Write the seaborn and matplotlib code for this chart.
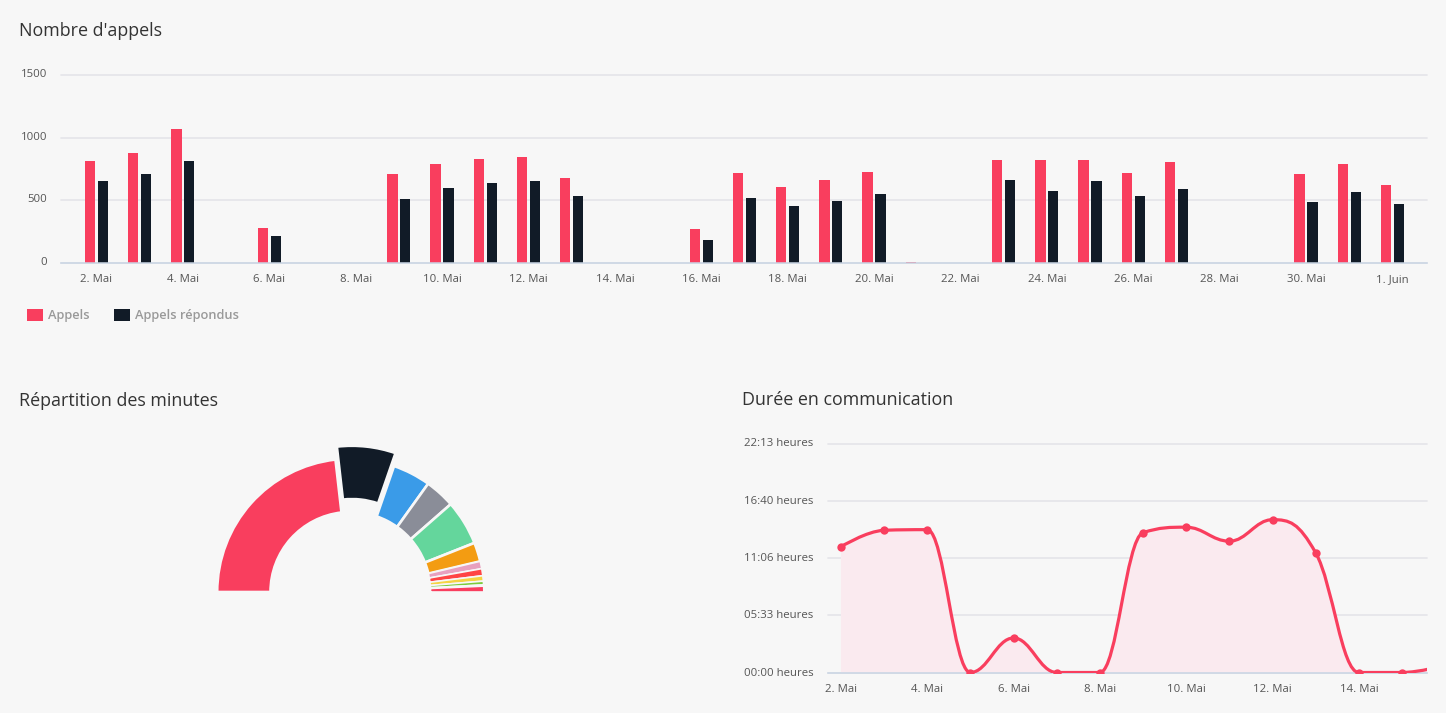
import numpy as np
import pandas as pd
import seaborn as sns
import matplotlib
matplotlib.use("Agg")
import matplotlib.pyplot as plt
from matplotlib.path import Path
from matplotlib.patches import PathPatch
from matplotlib.transforms import ScaledTranslation

days = ["2. Mai","3. Mai","4. Mai","5. Mai","6. Mai","7. Mai","8. Mai","9. Mai","10. Mai","11. Mai",
        "12. Mai","13. Mai","14. Mai","15. Mai","16. Mai","17. Mai","18. Mai","19. Mai","20. Mai","21. Mai",
        "22. Mai","23. Mai","24. Mai","25. Mai","26. Mai","27. Mai","28. Mai","29. Mai","30. Mai","31. Mai","1. Juin"]
appels = [815,880,1070,2,280,0,3,710,790,830,845,680,0,0,270,720,605,660,730,8,3,820,820,820,720,805,0,0,710,790,620]
repondus = [655,710,815,0,215,0,0,510,598,637,655,535,0,0,182,518,455,495,550,0,0,660,575,655,535,590,0,0,485,565,470]

slice_names = ["A","B","C","D","E","F","G","H","I","J","K","L"]
slice_share = [46.4,14.2,9.2,7.3,10.9,4.6,1.8,1.7,1.3,0.9,0.3,1.4]
slice_colors = ["#F93E5E","#111B27","#3A9BE8","#8A8D98","#64D69C","#F39C12","#E8A0BF","#FF4444","#F5D442","#7CCC3C","#C8E8A0","#F93E5E"]

line_days = [0,1,2,3,4,5,6,7,8,9,10,11,12,13,14]
line_hours = [12.2,13.8,13.86,0,3.35,0,0,13.57,14.1,12.74,14.83,11.62,0,0,0.7]
line_ticks = [0,5.55,11.1,16.67,22.22]
line_tick_labels = ["00:00 heures","05:33 heures","11:06 heures","16:40 heures","22:13 heures"]
line_xticks = [0,2,4,6,8,10,12]
line_xlabels = ["2. Mai","4. Mai","6. Mai","8. Mai","10. Mai","12. Mai","14. Mai"]

W, H = 1446, 713
BG = "#F7F7F7"; RED = "#F93E5E"; DARK = "#111B27"; GRID = "#E6E6EA"; AXIS = "#C9D5E4"; TXT = "#555555"
sns.set_theme(style="white")
plt.rcParams["font.family"] = ["Open Sans", "DejaVu Sans"]
plt.rcParams["axes.facecolor"] = BG

def px_axes(fig, left, top, right, bottom):
    return fig.add_axes([left/W, 1-bottom/H, (right-left)/W, (bottom-top)/H])

def style(ax):
    for s in ["top","left","right"]:
        ax.spines[s].set_visible(False)
    ax.spines["bottom"].set_color(AXIS)
    ax.spines["bottom"].set_linewidth(1.1)
    ax.grid(False)
    ax.yaxis.grid(True, color=GRID, linewidth=1.3, clip_on=False)
    ax.set_axisbelow(True)
    ax.set_xlabel(""); ax.set_ylabel("")

def finish_ticks(ax, fig, dy_px, ypad):
    ax.tick_params(axis="x", length=0, pad=13.7, labelsize=8.2, labelcolor=TXT)
    ax.tick_params(axis="y", length=0, pad=ypad, labelsize=8.2, labelcolor=TXT)
    for lab in ax.get_xticklabels():
        lab.set_verticalalignment("baseline")
    off = ScaledTranslation(0, dy_px/fig.dpi, fig.dpi_scale_trans)
    for lab in ax.get_yticklabels():
        lab.set_transform(lab.get_transform() + off)
    for gl in ax.yaxis.get_gridlines():
        gl.set_clip_on(False)

fig = plt.figure(figsize=(W/100, H/100), dpi=100, facecolor=BG)

# --- Bars
ax1 = px_axes(fig, 61, 75, 1427, 263)
df = pd.DataFrame({"jour": days*2,
                   "n": appels+repondus,
                   "serie": ["Appels"]*len(days)+["Appels répondus"]*len(days)})
sns.barplot(data=df, x="jour", y="n", hue="serie", palette=[RED, DARK], width=0.6, gap=0.2,
            saturation=1, ax=ax1, legend=True, linewidth=0)
style(ax1)
ax1.set_xlim(-0.82, 30.8)
ax1.set_ylim(0, 1500)
ax1.set_yticks([0,500,1000,1500])
ax1.set_yticklabels(["0","500","1000","1500"])
ax1.set_xticks(range(0, len(days), 2))
ax1.set_xticklabels(days[::2])
finish_ticks(ax1, fig, 2, 10)
h, l = ax1.get_legend_handles_labels()
ax1.legend(h, l, loc="upper left", bbox_to_anchor=(27/W, 1-309/H), bbox_transform=fig.transFigure,
           ncol=2, frameon=False, borderpad=0, borderaxespad=0,
           handlelength=1.24, handleheight=1.0, handletextpad=0.4, columnspacing=1.85,
           labelcolor="#999999", prop={"size":9.3, "weight":600})

# --- Half donut
ax2 = px_axes(fig, 200.5, 430, 500.5, 713)
fracs = np.array(slice_share)/sum(slice_share)/2
explode = [13 if n == "B" else 0 for n in slice_names]
wedges, _ = ax2.pie(fracs, normalize=False, startangle=180, counterclock=False, radius=133.3, explode=explode,
                    colors=slice_colors, wedgeprops=dict(width=53.3, edgecolor=BG, linewidth=1.2))
for w in wedges[:6]:
    w.set_linewidth(1.9)
ax2.set_xlim(-150, 150)
ax2.set_ylim(-121, 162)
ax2.set_aspect("equal")
ax2.axis("off")

# --- Line
ax3 = px_axes(fig, 828, 443.5, 1427, 672.5)
style(ax3)
ax3.set_xlim(-0.3, 13.58)
ax3.set_ylim(0, 22.22)

def spline_path(xs, ys):
    verts = [(xs[0], ys[0])]; codes = [Path.MOVETO]
    n = len(xs)
    ctrl = []
    for i in range(n):
        if i == 0 or i == n-1:
            ctrl.append(((xs[i], ys[i]), (xs[i], ys[i])))
            continue
        lx = (1.5*xs[i]+xs[i-1])/2.5; ly = (1.5*ys[i]+ys[i-1])/2.5
        rx = (1.5*xs[i]+xs[i+1])/2.5; ry = (1.5*ys[i]+ys[i+1])/2.5
        c = (ry-ly)*(rx-xs[i])/(rx-lx)+ys[i]-ry
        ly += c; ry += c
        if ly > ys[i-1] and ly > ys[i]:
            ly = max(ys[i-1], ys[i]); ry = 2*ys[i]-ly
        elif ly < ys[i-1] and ly < ys[i]:
            ly = min(ys[i-1], ys[i]); ry = 2*ys[i]-ly
        if ry > ys[i+1] and ry > ys[i]:
            ry = max(ys[i+1], ys[i]); ly = 2*ys[i]-ry
        elif ry < ys[i+1] and ry < ys[i]:
            ry = min(ys[i+1], ys[i]); ly = 2*ys[i]-ry
        ctrl.append(((lx, ly), (rx, ry)))
    for i in range(1, n):
        verts += [ctrl[i-1][1], ctrl[i][0], (xs[i], ys[i])]
        codes += [Path.CURVE4]*3
    return verts, codes

v, c = spline_path(line_days, line_hours)
area_v = v + [(line_days[-1], 0), (line_days[0], 0), (line_days[0], line_hours[0])]
area_c = c + [Path.LINETO, Path.LINETO, Path.CLOSEPOLY]
ax3.add_patch(PathPatch(Path(area_v, area_c), facecolor="#FAEAEF", edgecolor="none", zorder=1))
ax3.add_patch(PathPatch(Path(v, c), facecolor="none", edgecolor=RED, linewidth=2.3, zorder=3))
sns.scatterplot(x=line_days, y=line_hours, color=RED, s=36, linewidth=0, ax=ax3, zorder=4, clip_on=True)
ax3.set_yticks(line_ticks)
ax3.set_yticklabels(line_tick_labels)
ax3.set_xticks(line_xticks)
ax3.set_xticklabels(line_xlabels)
finish_ticks(ax3, fig, 1, 10.5)

# --- Titles
for x, y, t in [(19, 30.5, "Nombre d'appels"), (19, 401, "Répartition des minutes"), (742, 400, "Durée en communication")]:
    fig.text(x/W, 1-y/H, t, fontsize=12.85, color="#333333", va="center", ha="left")

fig.savefig("out.png", dpi=100, facecolor=BG)
